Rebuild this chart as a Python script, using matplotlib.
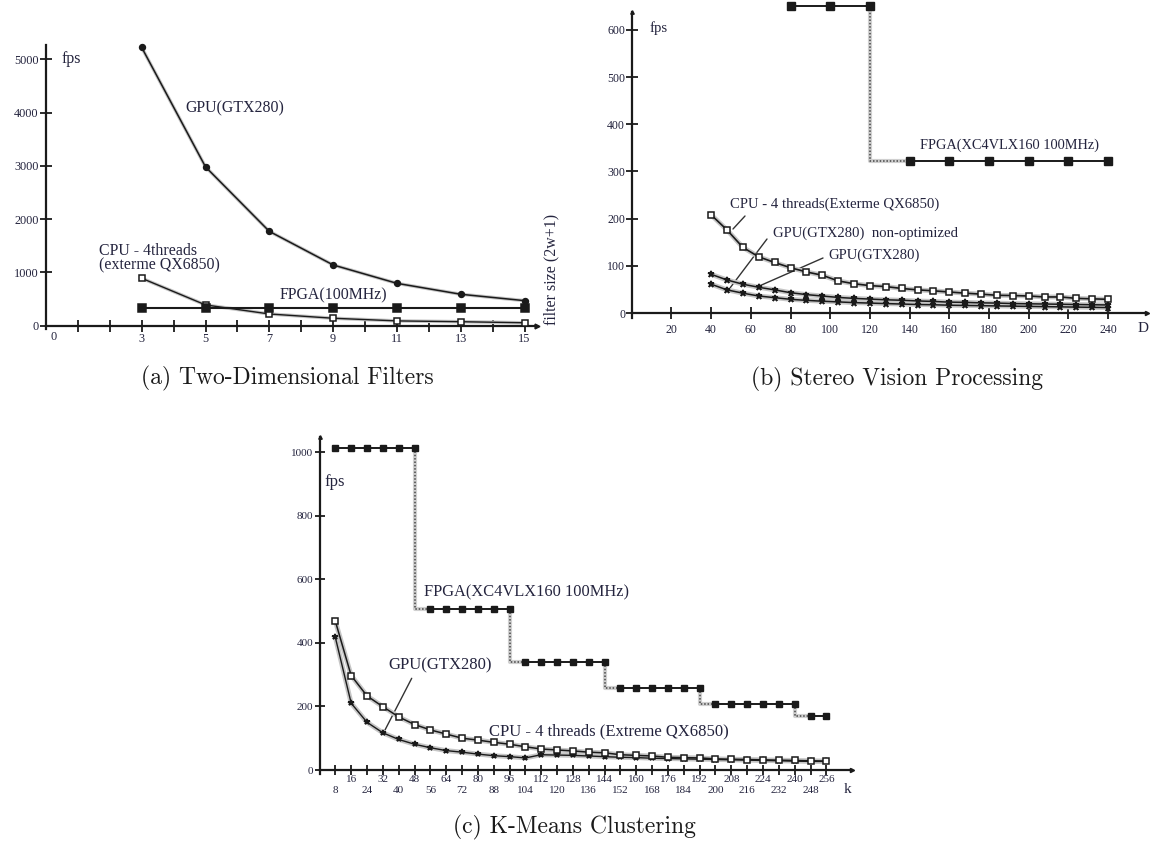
import matplotlib
matplotlib.use('Agg')
import matplotlib.pyplot as plt

W, H, DPI = 1161, 848, 100
plt.rcParams['font.family'] = ['Liberation Serif', 'DejaVu Serif']

TXT = '#24243e'
LINE = '#1a1a1a'
HALO = '#c6c6c6'

# ---------------- (a) Two-Dimensional Filters ----------------
filter_size = [3, 5, 7, 9, 11, 13, 15]
a_gpu = [5220, 2980, 1770, 1140, 795, 590, 470]
a_cpu = [890, 390, 220, 140, 90, 75, 55]
a_fpga = [335, 335, 335, 335, 335, 335, 335]
a_xticks = [1, 2, 3, 4, 5, 6, 7, 8, 9, 10, 11, 12, 13, 14, 15]
a_xlabeled = [3, 5, 7, 9, 11, 13, 15]
a_yticks = [0, 1000, 2000, 3000, 4000, 5000]

# ---------------- (b) Stereo Vision Processing ----------------
disparity = [40, 48, 56, 64, 72, 80, 88, 96, 104, 112, 120, 128, 136,
             144, 152, 160, 168, 176, 184, 192, 200, 208, 216, 224, 232, 240]
b_cpu = [208, 176, 139, 119, 107, 96, 87, 80, 68, 62, 58, 56, 52,
         49, 47, 44.5, 42, 40, 37.5, 37, 36, 34, 34, 31, 30, 29]
b_gpu = [82, 70, 61, 54.5, 49, 43, 39, 36, 33, 31, 29.5, 28, 27,
         25.5, 24.5, 23, 22.5, 21.5, 21, 20, 19.5, 19, 18.5, 18, 17.5, 17]
b_gpu_nonopt = [61, 49, 42, 36, 32.5, 29, 26.8, 25, 23.5, 22, 21, 20, 19,
                18, 17.5, 16.5, 16, 15.5, 15, 14.5, 14, 13.5, 13, 12.5, 12, 11.5]
b_fpga_d = [80, 100, 120, 140, 160, 180, 200, 220, 240]
b_fpga = [650, 650, 650, 322, 322, 322, 322, 322, 322]
b_xticks = [20, 40, 60, 80, 100, 120, 140, 160, 180, 200, 220, 240]
b_yticks = [0, 100, 200, 300, 400, 500, 600]

# ---------------- (c) K-Means Clustering ----------------
k_vals = [8, 16, 24, 32, 40, 48, 56, 64, 72, 80, 88, 96, 104, 112, 120, 128,
          136, 144, 152, 160, 168, 176, 184, 192, 200, 208, 216, 224, 232, 240, 248, 256]
c_cpu = [468, 297, 233, 199, 167, 143, 126, 113, 100, 94, 87, 81, 73, 66, 63, 60,
         56, 54, 48, 46, 44, 40, 39, 38, 35, 34, 33, 32, 31, 30, 29, 28]
c_gpu = [417, 210, 150, 117, 96, 81, 70, 61, 56, 50, 45, 42, 38, 48, 47, 46,
         44, 42, 40, 39, 37, 36, 35, 34, 33, 32, 31, 30, 29, 28, 27, 27]
c_fpga = [1013, 1013, 1013, 1013, 1013, 1013, 507, 507, 507, 507, 507, 507,
          340, 340, 340, 340, 340, 340, 259, 259, 259, 259, 259, 259,
          206, 206, 206, 206, 206, 206, 171, 171]
c_xticks_upper = [16, 32, 48, 64, 80, 96, 112, 128, 144, 160, 176, 192, 208, 224, 240, 256]
c_xticks_lower = [8, 24, 40, 56, 72, 88, 104, 120, 136, 152, 168, 184, 200, 216, 232, 248]
c_yticks = [0, 200, 400, 600, 800, 1000]

fig = plt.figure(figsize=(W / DPI, H / DPI), dpi=DPI)


def ftext(px, py, s, **kw):
    kw.setdefault('color', TXT)
    return fig.text(px / W, 1 - py / H, s, **kw)


class Panel:
    def __init__(self, x0, sx, y0, sy, xlim, ylim):
        self.x0, self.sx, self.y0, self.sy = x0, sx, y0, sy
        left = x0 + sx * xlim[0]
        right = x0 + sx * xlim[1]
        bottom = y0 - sy * ylim[0]
        top = y0 - sy * ylim[1]
        ax = fig.add_axes([left / W, 1 - bottom / H, (right - left) / W, (bottom - top) / H])
        ax.set_xlim(*xlim)
        ax.set_ylim(*ylim)
        ax.patch.set_alpha(0)
        for s in ('top', 'right'):
            ax.spines[s].set_visible(False)
        ax.spines['left'].set_position(('data', 0))
        ax.spines['bottom'].set_position(('data', 0))
        for s in ('left', 'bottom'):
            ax.spines[s].set_linewidth(1.6)
            ax.spines[s].set_color(LINE)
        self.ax = ax

    def d(self, px, py):
        return ((px - self.x0) / self.sx, (self.y0 - py) / self.sy)

    def pointer(self, p_from, p_to):
        self.ax.annotate('', xy=self.d(*p_to), xytext=self.d(*p_from),
                         arrowprops=dict(arrowstyle='-', color='#333333', lw=1.0,
                                         shrinkA=0, shrinkB=0), annotation_clip=False)


def series(ax, x, y, marker, ms, mfc, lw=1.2, halo=3.5, z=3):
    if halo:
        ax.plot(x, y, color=HALO, lw=halo, zorder=z - 1, solid_capstyle='round', clip_on=False)
    ax.plot(x, y, color=LINE, lw=lw, marker=marker, ms=ms, mfc=mfc, mec=LINE,
            mew=1.1, zorder=z, clip_on=False)


def step_series(ax, x, y, ms, lw=1.4):
    # group consecutive equal levels; solid within a level, dotted connectors
    groups = []
    for xi, yi in zip(x, y):
        if groups and groups[-1][1][-1] == yi:
            groups[-1][0].append(xi)
            groups[-1][1].append(yi)
        else:
            groups.append(([xi], [yi]))
    for i, (gx, gy) in enumerate(groups):
        ax.plot(gx, gy, color=LINE, lw=lw, marker='s', ms=ms, mfc=LINE, mec=LINE,
                zorder=4, clip_on=False)
        if i + 1 < len(groups):
            nx, ny = groups[i + 1]
            cx = [gx[-1], gx[-1], nx[0]]
            cy = [gy[-1], ny[0], ny[0]]
            ax.plot(cx, cy, color='#d0d0d0', lw=3, zorder=2, clip_on=False)
            ax.plot(cx, cy, color='#444444', lw=1.1, ls=(0, (1, 1.2)), zorder=3, clip_on=False)


# ================= panel (a) =================
pa = Panel(46, 31.9, 325.7, 0.0533, (-0.5, 16.2), (-300, 5450))
ax = pa.ax
ax.spines['bottom'].set_bounds(0, 15.4)
ax.spines['left'].set_bounds(-60, 5270)
ax.set_xticks(a_xticks, [str(v) if v in a_xlabeled else '' for v in a_xticks])
ax.set_yticks(a_yticks, [str(v) for v in a_yticks])
ax.tick_params(direction='inout', length=8.5, width=1.3, color=LINE,
               labelsize=8.8, labelcolor=TXT, pad=1)
ax.plot([15.4], [0], marker='>', ms=3.5, color=LINE, clip_on=False)
series(ax, filter_size, a_gpu, 'o', 4.2, LINE, lw=1.1, halo=2.5)
series(ax, filter_size, a_cpu, 's', 4.6, 'white', lw=1.0, halo=2.5)
series(ax, filter_size, a_fpga, 's', 5.2, LINE, lw=1.5, halo=0, z=5)
ftext(53.3, 336.7, '0', fontsize=8.8, ha='center', va='center')
ftext(62, 59.3, 'fps', fontsize=11.4, ha='left', va='center')
ftext(185, 108.3, 'GPU(GTX280)', fontsize=11.4, ha='left', va='center')
ftext(99, 250.7, 'CPU - 4threads', fontsize=11.4, ha='left', va='center')
ftext(99, 265.7, '(exterme QX6850)', fontsize=11.4, ha='left', va='center')
ftext(280, 295, 'FPGA(100MHz)', fontsize=11.4, ha='left', va='center')
ftext(551.7, 269, 'filter size (2w+1)', fontsize=11.4, ha='center', va='center', rotation=90)

# ================= panel (b) =================
pb = Panel(631.7, 1.985, 313, 0.472, (-10, 266), (-30, 663))
ax = pb.ax
ax.spines['bottom'].set_bounds(0, 259.4)
ax.spines['left'].set_bounds(-10, 638)
ax.set_xticks(b_xticks, [str(v) for v in b_xticks])
ax.set_yticks(b_yticks, [str(v) for v in b_yticks])
ax.tick_params(direction='inout', length=8.5, width=1.3, color=LINE,
               labelsize=8.6, labelcolor=TXT)
ax.tick_params(axis='x', pad=4)
ax.tick_params(axis='y', pad=0.5)
ax.plot([259.4], [0], marker='>', ms=3, color=LINE, clip_on=False)
ax.plot([0], [638], marker='^', ms=2.5, color=LINE, clip_on=False)
series(ax, disparity, b_cpu, 's', 4.6, 'white', lw=1.2, halo=3.5, z=6)
series(ax, disparity, b_gpu, '*', 5, LINE, lw=1.1, halo=3.5, z=5)
series(ax, disparity, b_gpu_nonopt, '*', 5, LINE, lw=1.1, halo=3.5, z=5)
step_series(ax, b_fpga_d, b_fpga, 5.2)
ftext(650, 28.3, 'fps', fontsize=10.6, ha='left', va='center')
ftext(1143.3, 329, 'D', fontsize=11, ha='center', va='center')
ftext(920, 145, 'FPGA(XC4VLX160 100MHz)', fontsize=10.4, ha='left', va='center')
ftext(730, 204, 'CPU - 4 threads(Exterme QX6850)', fontsize=10.6, ha='left', va='center')
ftext(773, 233.3, 'GPU(GTX280)  non-optimized', fontsize=10.6, ha='left', va='center')
ftext(828, 255, 'GPU(GTX280)', fontsize=10.6, ha='left', va='center')
pb.pointer((745, 216), (733, 229))
pb.pointer((767, 239), (730, 288))
pb.pointer((823, 258), (757, 287))

# ================= panel (c) =================
pc = Panel(319.5, 1.98, 770, 0.318, (-8, 272), (-50, 1080))
ax = pc.ax
ax.spines['bottom'].set_bounds(0, 269)
ax.spines['left'].set_bounds(-12, 1048)
ax.set_xticks(c_xticks_upper, [str(v) for v in c_xticks_upper])
ax.set_xticks(c_xticks_lower, [str(v) for v in c_xticks_lower], minor=True)
ax.set_yticks(c_yticks, [str(v) for v in c_yticks])
ax.tick_params(which='both', direction='inout', length=7.5, width=1.3, color=LINE,
               labelsize=8, labelcolor=TXT)
ax.tick_params(axis='x', which='major', pad=0)
ax.tick_params(axis='x', which='minor', pad=7.5)
ax.tick_params(axis='y', pad=1)
ax.plot([269], [0], marker='>', ms=3, color=LINE, clip_on=False)
ax.plot([0], [1048], marker='^', ms=2.5, color=LINE, clip_on=False)
series(ax, k_vals, c_cpu, 's', 4.0, 'white', lw=1.1, halo=3.5, z=6)
series(ax, k_vals, c_gpu, '*', 4.2, LINE, lw=1.0, halo=3.5, z=5)
step_series(ax, k_vals, c_fpga, 4.4)
ftext(324, 481.7, 'fps', fontsize=12, ha='left', va='center')
ftext(848, 789.3, 'k', fontsize=11, ha='center', va='center')
ftext(423.7, 592.5, 'FPGA(XC4VLX160 100MHz)', fontsize=11.8, ha='left', va='center')
ftext(388.3, 665, 'GPU(GTX280)', fontsize=12, ha='left', va='center')
ftext(489, 731, 'CPU - 4 threads (Extreme QX6850)', fontsize=12, ha='left', va='center')
pc.pointer((411.7, 678.3), (385, 730))

# ================= captions =================
cap = dict(family=['cmr10', 'DejaVu Serif'], fontsize=17, ha='center', va='center', color='#1a1a1a')
ftext(287.5, 378.3, '(a) Two-Dimensional Filters', **cap)
ftext(896.8, 379.3, '(b) Stereo Vision Processing', **cap)
ftext(574.6, 827.7, '(c) K-Means Clustering', **cap)

fig.savefig('out.png', dpi=DPI)
